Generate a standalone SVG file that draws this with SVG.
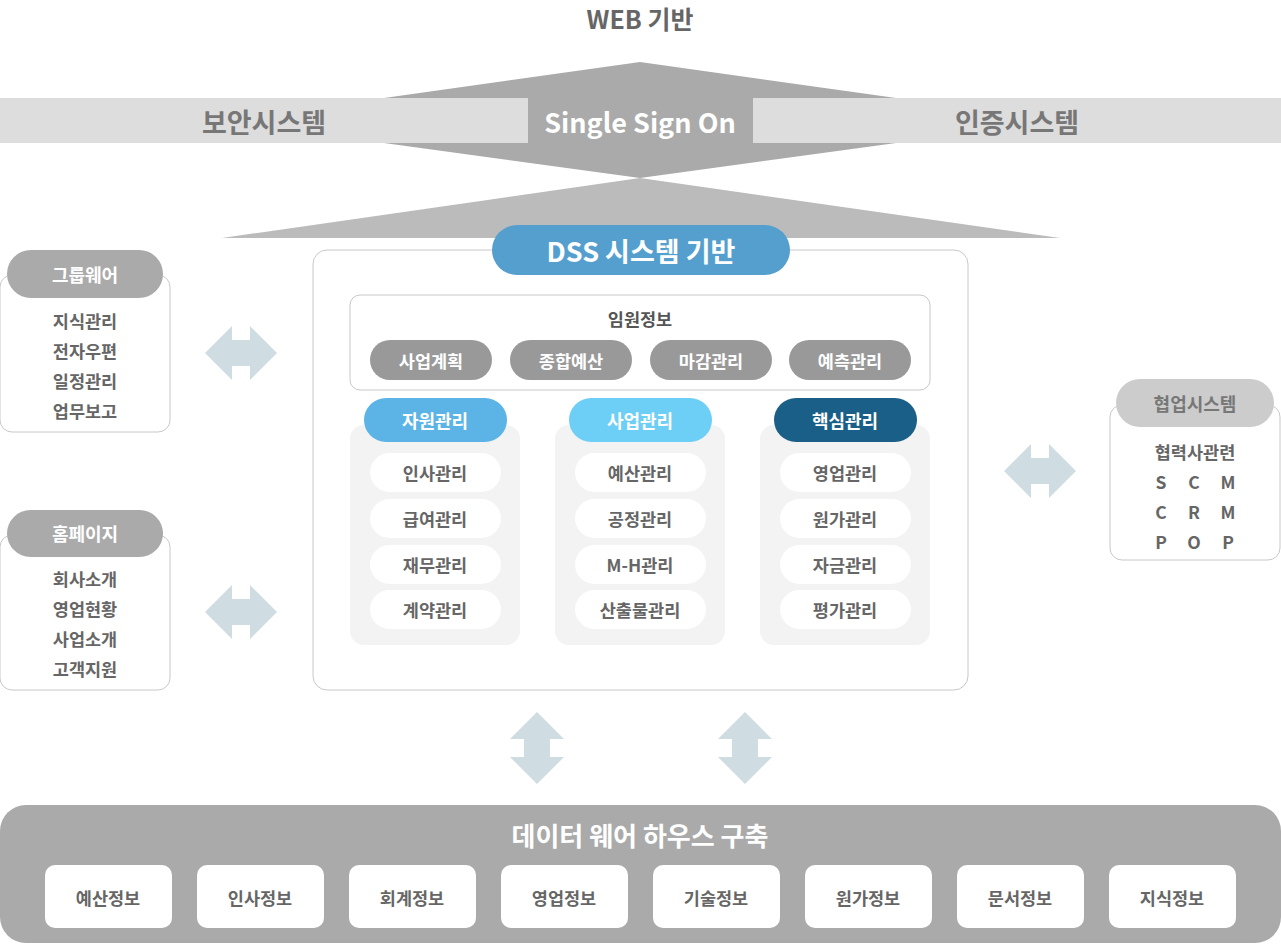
<svg xmlns="http://www.w3.org/2000/svg" width="1281" height="945" viewBox="0 0 1281 945">
<defs>
<style>
text{font-family:"Noto Sans CJK KR","Noto Sans",sans-serif;font-weight:bold;text-anchor:middle;dominant-baseline:central}
.g{fill:#666;font-size:17.5px}
.w{fill:#fff}
.arr{fill:#cfdde3}
.item{fill:#fff}
.col{fill:#f3f3f3}
.box{fill:#fff;stroke:#c8c8c8;stroke-width:1}
</style>
<path id="ha" d="M0,0 L27,-27 L27,-13 L45,-13 L45,-27 L72,0 L45,27 L45,13 L27,13 L27,27 Z"/>
<path id="va" d="M0,0 L-27,27 L-13,27 L-13,45 L-27,45 L0,72 L27,45 L13,45 L13,27 L27,27 Z"/>
</defs>
<rect width="1281" height="945" fill="#fff"/>
<text x="640" y="18" style="font-size:25px;fill:#666">WEB 기반</text>
<polygon points="640,178 222,238 1060,238" fill="#bbb"/>
<polygon points="640,62 384,98 384,143 640,178 896,143 896,98" fill="#aaa"/>
<rect x="0" y="98" width="528" height="45" fill="#ddd"/>
<rect x="753" y="98" width="528" height="45" fill="#ddd"/>
<text x="264" y="121" style="font-size:27px;fill:#777">보안시스템</text>
<text x="1017" y="121" style="font-size:27px;fill:#777">인증시스템</text>
<text x="640" y="121" class="w" style="font-size:27px">Single Sign On</text>

<g id="groupware">
<rect x="0" y="275" width="170" height="157" rx="12" class="box"/>
<rect x="7" y="250" width="156" height="48" rx="24" fill="#aaa"/>
<text x="85" y="274" class="w" style="font-size:18px">그룹웨어</text>
<text x="85" y="320" class="g">지식관리</text><text x="85" y="350" class="g">전자우편</text><text x="85" y="380" class="g">일정관리</text><text x="85" y="410" class="g">업무보고</text>
</g>
<g id="homepage">
<rect x="0" y="535" width="170" height="155" rx="12" class="box"/>
<rect x="7" y="510" width="156" height="47" rx="23.5" fill="#aaa"/>
<text x="85" y="533" class="w" style="font-size:18px">홈페이지</text>
<text x="85" y="578" class="g">회사소개</text><text x="85" y="608" class="g">영업현황</text><text x="85" y="638" class="g">사업소개</text><text x="85" y="668" class="g">고객지원</text>
</g>
<g id="collab">
<rect x="1110" y="405" width="170" height="155" rx="12" class="box"/>
<rect x="1116" y="379" width="158" height="48" rx="24" fill="#ccc"/>
<text x="1195" y="403" style="font-size:18px;fill:#777">협업시스템</text>
<text x="1195" y="451" class="g">협력사관련</text>
<text x="1161" y="481" class="g">S</text><text x="1194" y="481" class="g">C</text><text x="1228" y="481" class="g">M</text>
<text x="1161" y="511" class="g">C</text><text x="1194" y="511" class="g">R</text><text x="1228" y="511" class="g">M</text>
<text x="1161" y="541" class="g">P</text><text x="1194" y="541" class="g">O</text><text x="1228" y="541" class="g">P</text>
</g>

<g id="dss">
<rect x="313" y="250" width="655" height="440" rx="14" class="box"/>
<rect x="492" y="225" width="298" height="50" rx="25" fill="#559fcf"/>
<text x="641" y="250" class="w" style="font-size:27px">DSS 시스템 기반</text>
</g>
<g id="exec">
<rect x="350" y="295" width="580" height="95" rx="10" class="box"/>
<text x="640" y="318" class="g" style="fill:#555">임원정보</text>
<rect x="370" y="340" width="122" height="40" rx="20" fill="#999"/><text x="431" y="360" class="w" style="font-size:17.5px">사업계획</text>
<rect x="510" y="340" width="122" height="40" rx="20" fill="#999"/><text x="571" y="360" class="w" style="font-size:17.5px">종합예산</text>
<rect x="650" y="340" width="122" height="40" rx="20" fill="#999"/><text x="711" y="360" class="w" style="font-size:17.5px">마감관리</text>
<rect x="789" y="340" width="122" height="40" rx="20" fill="#999"/><text x="850" y="360" class="w" style="font-size:17.5px">예측관리</text>
</g>
<g id="col1">
<rect x="350" y="425" width="170" height="220" rx="14" class="col"/>
<rect x="364" y="398" width="143" height="44" rx="22" fill="#5cb4e6"/><text x="435" y="420" class="w" style="font-size:18px">자원관리</text>
<rect x="370" y="453" width="131" height="39" rx="19.5" class="item"/><text x="435" y="472" class="g">인사관리</text>
<rect x="370" y="499" width="131" height="39" rx="19.5" class="item"/><text x="435" y="518" class="g">급여관리</text>
<rect x="370" y="545" width="131" height="39" rx="19.5" class="item"/><text x="435" y="564" class="g">재무관리</text>
<rect x="370" y="590" width="131" height="39" rx="19.5" class="item"/><text x="435" y="609" class="g">계약관리</text>
</g>
<g id="col2">
<rect x="555" y="425" width="170" height="220" rx="14" class="col"/>
<rect x="569" y="398" width="143" height="44" rx="22" fill="#6dcff6"/><text x="640" y="420" class="w" style="font-size:18px">사업관리</text>
<rect x="575" y="453" width="131" height="39" rx="19.5" class="item"/><text x="640" y="472" class="g">예산관리</text>
<rect x="575" y="499" width="131" height="39" rx="19.5" class="item"/><text x="640" y="518" class="g">공정관리</text>
<rect x="575" y="545" width="131" height="39" rx="19.5" class="item"/><text x="640" y="564" class="g">M-H관리</text>
<rect x="575" y="590" width="131" height="39" rx="19.5" class="item"/><text x="640" y="609" class="g">산출물관리</text>
</g>
<g id="col3">
<rect x="760" y="425" width="170" height="220" rx="14" class="col"/>
<rect x="774" y="398" width="143" height="44" rx="22" fill="#1a5f87"/><text x="845" y="420" class="w" style="font-size:18px">핵심관리</text>
<rect x="780" y="453" width="131" height="39" rx="19.5" class="item"/><text x="845" y="472" class="g">영업관리</text>
<rect x="780" y="499" width="131" height="39" rx="19.5" class="item"/><text x="845" y="518" class="g">원가관리</text>
<rect x="780" y="545" width="131" height="39" rx="19.5" class="item"/><text x="845" y="564" class="g">자금관리</text>
<rect x="780" y="590" width="131" height="39" rx="19.5" class="item"/><text x="845" y="609" class="g">평가관리</text>
</g>

<g id="connectors" class="arr">
<use href="#ha" x="205" y="353"/>
<use href="#ha" x="205" y="612"/>
<use href="#ha" x="1004" y="471"/>
<use href="#va" x="537" y="712"/>
<use href="#va" x="745" y="712"/>
</g>

<g id="dw">
<rect x="0" y="805" width="1281" height="138" rx="26" fill="#aaa"/>
<text x="640" y="834" class="w" style="font-size:26px">데이터 웨어 하우스 구축</text>
<rect x="45" y="865" width="127" height="63" rx="10" fill="#fff"/><text x="108" y="897" class="g">예산정보</text>
<rect x="197" y="865" width="127" height="63" rx="10" fill="#fff"/><text x="260" y="897" class="g">인사정보</text>
<rect x="349" y="865" width="127" height="63" rx="10" fill="#fff"/><text x="412" y="897" class="g">회계정보</text>
<rect x="501" y="865" width="127" height="63" rx="10" fill="#fff"/><text x="564" y="897" class="g">영업정보</text>
<rect x="653" y="865" width="127" height="63" rx="10" fill="#fff"/><text x="716" y="897" class="g">기술정보</text>
<rect x="805" y="865" width="127" height="63" rx="10" fill="#fff"/><text x="868" y="897" class="g">원가정보</text>
<rect x="957" y="865" width="127" height="63" rx="10" fill="#fff"/><text x="1020" y="897" class="g">문서정보</text>
<rect x="1109" y="865" width="127" height="63" rx="10" fill="#fff"/><text x="1172" y="897" class="g">지식정보</text>
</g>
</svg>
